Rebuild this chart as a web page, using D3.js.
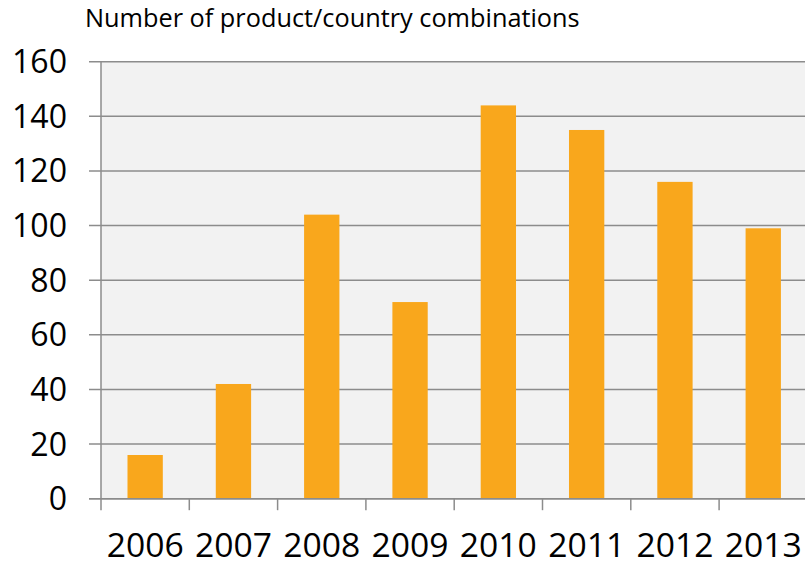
<!DOCTYPE html>
<html><head><meta charset="utf-8">
<script src="https://cdn.jsdelivr.net/npm/d3@7"></script>
<style>
html,body{margin:0;padding:0;background:#fff;}
svg{display:block;}
text{font-family:"Open Sans","Noto Sans",sans-serif;fill:#000;}
</style></head>
<body>
<svg id="c" width="805" height="562"></svg>
<script>
const categories = ["2006","2007","2008","2009","2010","2011","2012","2013"];
const values = [16, 42, 104, 72, 144, 135, 116, 99];
const yTicks = [0, 20, 40, 60, 80, 100, 120, 140, 160];
const title = "Number of product/country combinations";

(function () {
const svg = d3.select("#c");
const mLeft = 101, mRight = 807.4, mTop = 61.7, mBottom = 498.7;

const x = d3.scaleBand().domain(categories).range([mLeft, mRight]).paddingInner(0.6).paddingOuter(0.3);
const y = d3.scaleLinear().domain([0, 160]).range([mBottom, mTop]);
const step = x.step();

function fitSize(sel, base, target) {
  const w = sel.node().getComputedTextLength();
  return base * target / w;
}

// plot background
svg.append("rect").attr("x", mLeft).attr("y", y(160)).attr("width", 805 - mLeft).attr("height", y(0) - y(160)).attr("fill", "#F2F2F2");

// gridlines + y tick marks
svg.append("g").selectAll("line").data(yTicks).join("line")
  .attr("x1", 89).attr("x2", 805).attr("y1", d => y(d)).attr("y2", d => y(d))
  .attr("stroke", "#8C8C8C").attr("stroke-width", 1.5);

// bars
svg.append("g").selectAll("rect").data(values).join("rect")
  .attr("x", (d, i) => x(categories[i]))
  .attr("width", x.bandwidth())
  .attr("y", d => y(d))
  .attr("height", d => y(0) - y(d))
  .attr("fill", "#F9A71C");

// y axis line
svg.append("line").attr("x1", mLeft).attr("x2", mLeft).attr("y1", y(160)).attr("y2", mBottom + 11.5)
  .attr("stroke", "#8C8C8C").attr("stroke-width", 1.5);
// x axis line
svg.append("line").attr("x1", 89).attr("x2", 805).attr("y1", y(0)).attr("y2", y(0))
  .attr("stroke", "#8C8C8C").attr("stroke-width", 1.5);
// x tick marks at band boundaries
const bounds = categories.map(c => x(c) - step * x.paddingInner() / 2);
svg.append("g").selectAll("line").data(bounds.slice(1)).join("line")
  .attr("x1", d => d).attr("x2", d => d).attr("y1", y(0)).attr("y2", y(0) + 11.5)
  .attr("stroke", "#8C8C8C").attr("stroke-width", 1.5);

// y labels
const yl = svg.append("g").selectAll("text").data(yTicks).join("text")
  .attr("x", 67).attr("y", d => y(d)).attr("dy", "0.36em")
  .attr("text-anchor", "end").style("font-size", "32px").text(d => d);
const ys = fitSize(yl.filter(d => d === 160), 32, 55);
yl.style("font-size", ys + "px");

// x labels
const xl = svg.append("g").selectAll("text").data(categories).join("text")
  .attr("x", d => x(d) + x.bandwidth() / 2).attr("y", 557)
  .attr("text-anchor", "middle").style("font-size", "34px").text(d => d);
const xs = fitSize(xl.filter((d, i) => i === 0), 34, 77);
xl.style("font-size", xs + "px");

// title
const t = svg.append("text").attr("x", 85).attr("y", 27).style("font-size", "22px").text(title);
t.style("font-size", fitSize(t, 22, 495) + "px");
})();
</script>
</body></html>
